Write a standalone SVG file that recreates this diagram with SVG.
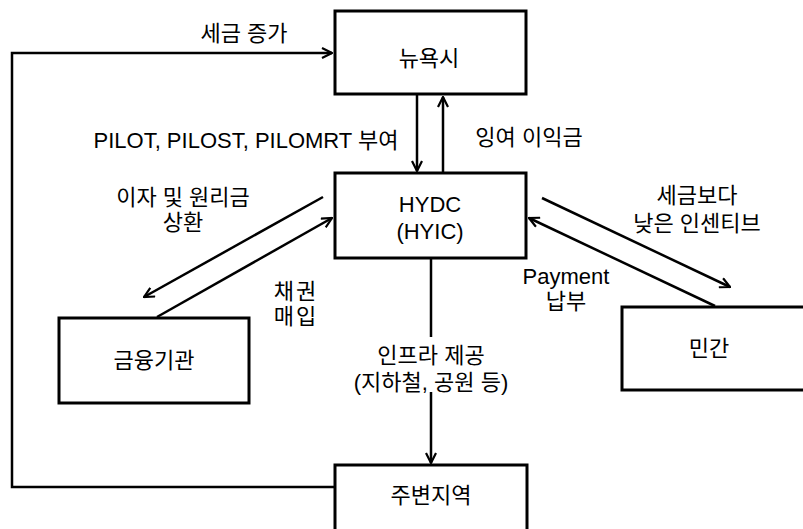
<svg xmlns="http://www.w3.org/2000/svg" width="803" height="529" viewBox="0 0 803 529">
<style>
.box{fill:#fff;stroke:#000;stroke-width:3}
.ln{fill:none;stroke:#000;stroke-width:2.5}
text{font-family:"Liberation Sans","Noto Sans CJK KR",sans-serif;font-size:22px;fill:#000;text-anchor:middle}
</style>
<defs>
<marker id="ah" viewBox="0 0 12 12" refX="11" refY="6" markerWidth="12" markerHeight="12" markerUnits="userSpaceOnUse" orient="auto">
<polyline points="1,1 11,6 1,11" fill="none" stroke="#000" stroke-width="2.2"/>
</marker>
</defs>
<g id="connectors">
<polyline class="ln" points="335,487 12,487 12,53 332,53" marker-end="url(#ah)"/>
<line class="ln" x1="417" y1="95" x2="417" y2="171" marker-end="url(#ah)"/>
<line class="ln" x1="443" y1="173" x2="443" y2="97" marker-end="url(#ah)"/>
<line class="ln" x1="323" y1="197" x2="144" y2="297" marker-end="url(#ah)"/>
<line class="ln" x1="157" y1="317" x2="332" y2="218" marker-end="url(#ah)"/>
<line class="ln" x1="542" y1="198" x2="730" y2="287" marker-end="url(#ah)"/>
<line class="ln" x1="715" y1="306" x2="529" y2="218" marker-end="url(#ah)"/>
<line class="ln" x1="431" y1="258" x2="431" y2="337"/>
<line class="ln" x1="431" y1="392" x2="431" y2="463" marker-end="url(#ah)"/>
<text x="244" y="41">세금 증가</text>
<text x="246" y="148">PILOT, PILOST, PILOMRT 부여</text>
<text x="529" y="145">잉여 이익금</text>
<text x="183" y="205">이자 및 원리금</text>
<text x="183" y="230">상환</text>
<text x="296" y="299" letter-spacing="2">채권</text>
<text x="296" y="324" letter-spacing="2">매입</text>
<text x="697" y="203">세금보다</text>
<text x="697" y="231">낮은 인센티브</text>
<text x="566" y="284">Payment</text>
<text x="566" y="309">납부</text>
<text x="431" y="363">인프라 제공</text>
<text x="431" y="390">(지하철, 공원 등)</text>
</g>
<g id="nyc"><rect class="box" x="335" y="11" width="191" height="83"/><text x="429" y="66">뉴욕시</text></g>
<g id="hydc"><rect class="box" x="335" y="173" width="191" height="85"/><text x="430" y="212">HYDC</text><text x="430" y="239">(HYIC)</text></g>
<g id="finance"><rect class="box" x="59" y="318" width="190" height="85"/><text x="154" y="368">금융기관</text></g>
<g id="private"><rect class="box" x="622" y="307" width="200" height="83"/><text x="709" y="356">민간</text></g>
<g id="area"><rect class="box" x="335" y="465" width="192" height="80"/><text x="431" y="503">주변지역</text></g>
</svg>
